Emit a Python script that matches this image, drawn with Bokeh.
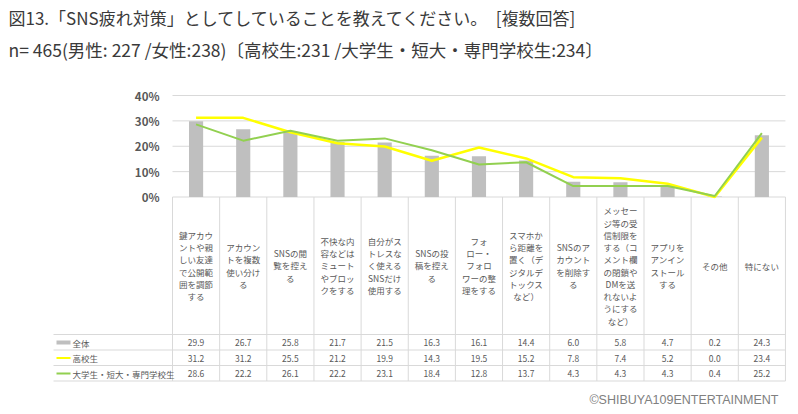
from bokeh.plotting import figure
from bokeh.models import Range1d
from bokeh.core.properties import value
from bokeh.embed import file_html
from bokeh.resources import INLINE

# ---------------- data ----------------
title_line1 = "図13.「SNS疲れ対策」としてしていることを教えてください。　[複数回答]"
title_line2 = "n= 465(男性: 227 /女性:238)〔高校生:231 /大学生・短大・専門学校生:234〕"
credit = "©SHIBUYA109ENTERTAINMENT"

categories = [
    "鍵アカウ\nントや親\nしい友達\nで公開範\n囲を調節\nする",
    "アカウン\nトを複数\n使い分け\nる",
    "SNSの閲\n覧を控え\nる",
    "不快な内\n容などは\nミュート\nやブロッ\nクをする",
    "自分がス\nトレスな\nく使える\nSNSだけ\n使用する",
    "SNSの投\n稿を控え\nる",
    "フォ\nロー・\nフォロ\nワーの整\n理をする",
    "スマホか\nら距離を\n置く（デ\nジタルデ\nトックス\nなど）",
    "SNSのア\nカウント\nを削除す\nる",
    "メッセー\nジ等の受\n信制限を\nする（コ\nメント欄\nの閉鎖や\nDMを送\nれないよ\nうにする\nなど）",
    "アプリを\nアンイン\nストール\nする",
    "その他",
    "特にない",
]
series_names = ["全体", "高校生", "大学生・短大・専門学校生"]
total = [29.9, 26.7, 25.8, 21.7, 21.5, 16.3, 16.1, 14.4, 6.0, 5.8, 4.7, 0.2, 24.3]
high_school = [31.2, 31.2, 25.5, 21.2, 19.9, 14.3, 19.5, 15.2, 7.8, 7.4, 5.2, 0.0, 23.4]
university = [28.6, 22.2, 26.1, 22.2, 23.1, 18.4, 12.8, 13.7, 4.3, 4.3, 4.3, 0.4, 25.2]
y_ticks = [0, 10, 20, 30, 40]
y_tick_labels = ["0%", "10%", "20%", "30%", "40%"]

# ---------------- style ----------------
FONT = value("Noto Sans CJK JP")
GRAY_TXT = "#595959"
GRID = "#d9d9d9"
C_TOTAL = "#bfbfbf"
C_HS = "#ffff00"
C_UNI = "#92d050"

W, H = 798, 414
n = len(categories)
idx = list(range(n))

# plot geometry (pixels)
col_left_px, col_w_px = 172.0, 47.15
zero_px, forty_px = 196.5, 95.0
ppu = (zero_px - forty_px) / 40.0
x0 = -(col_left_px + col_w_px / 2) / col_w_px
x1 = x0 + W / col_w_px
y_top = zero_px / ppu
y_bot = -(H - zero_px) / ppu

p = figure(width=W, height=H, x_range=Range1d(x0, x1), y_range=Range1d(y_bot, y_top),
           toolbar_location=None, output_backend="svg", min_border=0,
           x_axis_location=None, y_axis_location=None)
p.extra_x_ranges = {"px": Range1d(0, W)}
p.extra_y_ranges = {"px": Range1d(H, 0)}
p.grid.visible = False
p.outline_line_color = None
p.background_fill_color = "white"
p.border_fill_color = "white"

# gridlines
p.segment(x0=[-0.5] * len(y_ticks), x1=[n - 0.5] * len(y_ticks), y0=y_ticks, y1=y_ticks,
          line_color=GRID, line_width=1)
# y tick labels
p.text(x=[159] * len(y_ticks), y=y_ticks, text=y_tick_labels, x_range_name="px",
       text_font=FONT, text_font_size="11.5px", text_font_style="bold",
       text_color=GRAY_TXT, text_align="right", text_baseline="middle")

# bars and lines
p.vbar(x=idx, top=total, width=0.3, fill_color=C_TOTAL, line_color=None)
p.line(x=idx, y=high_school, line_color=C_HS, line_width=2.5)
p.line(x=idx, y=university, line_color=C_UNI, line_width=2)

# table grid
row_lines = [334, 349.5, 365, 380.5]
p.segment(x0=[53] * len(row_lines), x1=[785] * len(row_lines), y0=row_lines, y1=row_lines,
          x_range_name="px", y_range_name="px", line_color=GRID, line_width=1)
bounds = [k - 0.5 for k in range(n + 1)]
p.segment(x0=bounds, x1=bounds, y0=[zero_px] * len(bounds), y1=[row_lines[-1]] * len(bounds),
          y_range_name="px", line_color=GRID, line_width=1)

# category labels
p.text(x=idx, y=[265] * n, text=categories, y_range_name="px",
       text_font=FONT, text_font_size="8.5px", text_color=GRAY_TXT,
       text_align="center", text_baseline="middle", text_line_height=1.02)

# values rows
row_y = [342, 357.5, 373]
for vals, ry in zip([total, high_school, university], row_y):
    p.text(x=idx, y=[ry] * n, text=[f"{v:.1f}" for v in vals], y_range_name="px",
           text_font=FONT, text_font_size="8.5px", text_color=GRAY_TXT,
           text_align="center", text_baseline="middle")

# legend keys in table
p.segment(x0=[56] * 3, x1=[70] * 3, y0=row_y, y1=row_y, x_range_name="px", y_range_name="px",
          line_color=[C_TOTAL, C_HS, C_UNI], line_width=[4, 2, 2])
p.text(x=[72] * 3, y=row_y, text=series_names, x_range_name="px", y_range_name="px",
       text_font=FONT, text_font_size="8.5px", text_color=GRAY_TXT,
       text_align="left", text_baseline="middle")

# titles
p.text(x=[8], y=[17], text=[title_line1], x_range_name="px", y_range_name="px",
       text_font=FONT, text_font_size="17px", text_color="#3a3a3a",
       text_align="left", text_baseline="middle")
p.text(x=[8], y=[49], text=[title_line2], x_range_name="px", y_range_name="px",
       text_font=FONT, text_font_size="17.5px", text_color="#3a3a3a",
       text_align="left", text_baseline="middle")
p.text(x=[778], y=[399], text=[credit], x_range_name="px", y_range_name="px",
       text_font=value("Liberation Sans"), text_font_size="12.5px", text_color="#808080",
       text_align="right", text_baseline="middle")

open("out.html", "w").write(file_html(p, INLINE))
